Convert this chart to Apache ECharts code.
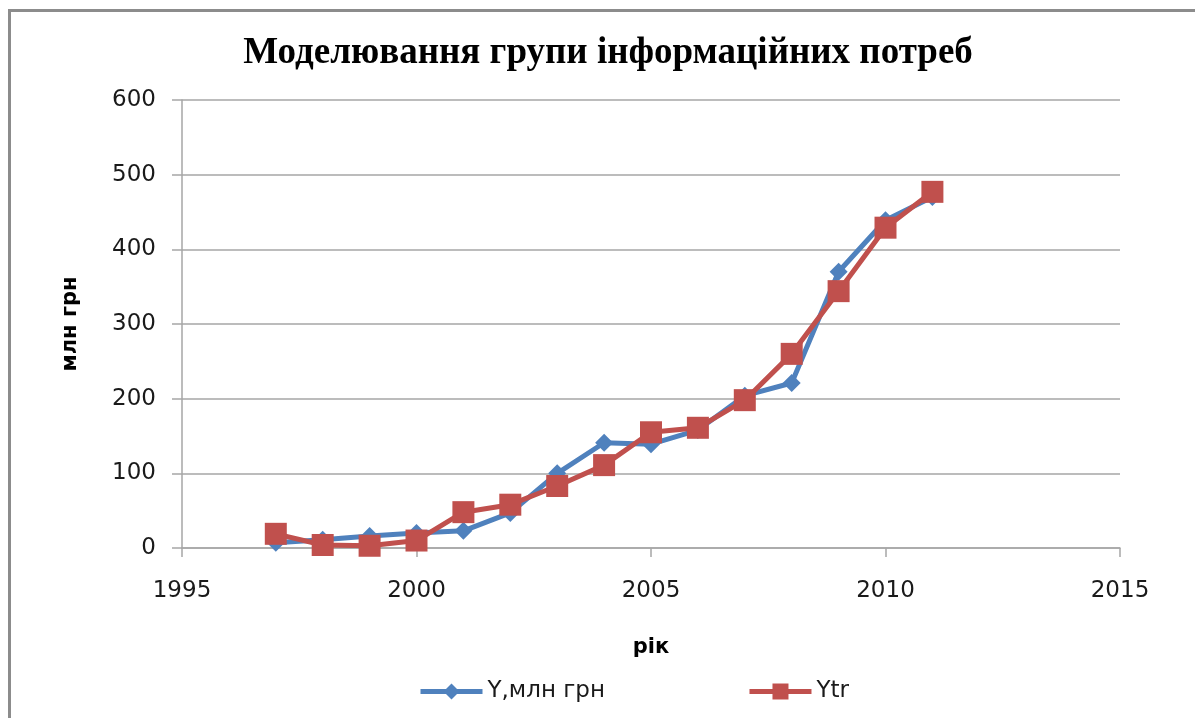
<!DOCTYPE html>
<html>
<head>
<meta charset="utf-8">
<script src="https://cdn.jsdelivr.net/npm/echarts@6/dist/echarts.min.js"></script>
<style>
    html, body { margin: 0; padding: 0; background: #fff; overflow: hidden; }
    #chart { width: 1195px; height: 718px; }
</style>
</head>
<body>
<div id="chart"></div>
<script>
// роки та значення
const years = [1997, 1998, 1999, 2000, 2001, 2002, 2003, 2004, 2005, 2006, 2007, 2008, 2009, 2010, 2011]
const yValues = [7, 11, 16, 20, 23, 47, 100, 141, 139, 158, 204, 221, 370, 439, 470]
const ytrValues = [19, 4, 3, 10, 48, 58, 83, 111, 155, 161, 198, 260, 344, 429, 477]

const pairs = (vals) => years.map((y, i) => [y, vals[i]])

const chart = echarts.init(document.getElementById('chart'))
const axisColor = '#a6a6a6'
const labelFont = { fontFamily: 'DejaVu Sans', fontSize: 23, color: '#1a1a1a' }
const nameFont = { fontFamily: 'DejaVu Sans', fontSize: 21, fontWeight: 'bold', color: '#000' }

chart.setOption({
    animation: false,
    // рамка діаграми (ліва та верхня)
    graphic: [
        { type: 'line', shape: { x1: 9.5, y1: 10, x2: 9.5, y2: 718 }, style: { stroke: '#8c8c8c', lineWidth: 3 } },
        { type: 'line', shape: { x1: 8, y1: 10.5, x2: 1195, y2: 10.5 }, style: { stroke: '#8c8c8c', lineWidth: 3 } }
    ],
    title: {
        text: 'Моделювання групи інформаційних потреб',
        left: 603,
        textAlign: 'center',
        top: 30,
        textStyle: { fontFamily: 'Liberation Serif', fontWeight: 'bold', fontSize: 37, color: '#000' }
    },
    legend: {
        left: 413,
        top: 675,
        itemWidth: 62,
        itemHeight: 20,
        itemGap: 142,
        textStyle: labelFont,
        lineStyle: { width: 5 },
        data: ['Y,млн грн', 'Ytr']
    },
    grid: { left: 182, right: 75, top: 100, bottom: 170 },
    xAxis: {
        type: 'value',
        min: 1995,
        max: 2015,
        interval: 5,
        name: 'рік',
        nameLocation: 'middle',
        nameGap: 89,
        nameTextStyle: nameFont,
        axisLine: { lineStyle: { color: axisColor, width: 1.5 } },
        axisTick: { show: true, length: 9, lineStyle: { color: axisColor, width: 1.5 } },
        axisLabel: Object.assign({ margin: 32, formatter: (v) => String(v) }, labelFont),
        splitLine: { show: false }
    },
    yAxis: {
        type: 'value',
        min: 0,
        max: 600,
        interval: 100,
        name: 'млн грн',
        nameLocation: 'middle',
        nameGap: 101,
        nameTextStyle: nameFont,
        axisLine: { show: true, lineStyle: { color: axisColor, width: 1.5 } },
        axisTick: { show: true, length: 10, lineStyle: { color: axisColor, width: 1.5 } },
        axisLabel: Object.assign({ margin: 26 }, labelFont),
        splitLine: { lineStyle: { color: axisColor, width: 1.5 } }
    },
    series: [
        {
            name: 'Y,млн грн',
            type: 'line',
            data: pairs(yValues),
            symbol: 'diamond',
            symbolSize: 18,
            lineStyle: { color: '#4f81bd', width: 5 },
            itemStyle: { color: '#4f81bd' }
        },
        {
            name: 'Ytr',
            type: 'line',
            data: pairs(ytrValues),
            symbol: 'rect',
            symbolSize: 22,
            lineStyle: { color: '#c0504d', width: 5 },
            itemStyle: { color: '#c0504d' }
        }
    ]
})
</script>
</body>
</html>
